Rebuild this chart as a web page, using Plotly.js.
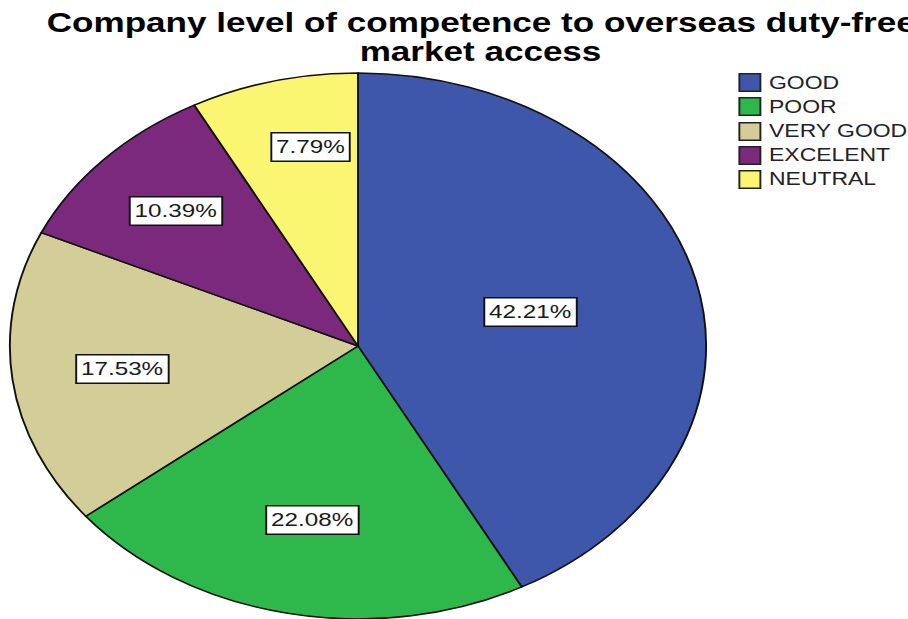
<!DOCTYPE html>
<html>
<head>
<meta charset="utf-8">
<script src="https://cdn.plot.ly/plotly-3.0.1.min.js"></script>
<style>
  html, body { margin: 0; padding: 0; overflow: hidden; background: #fff; width: 908px; height: 619px; }
  #chart { width: 712px; height: 619px; transform: scaleX(1.2753); transform-origin: 0 0; }
</style>
</head>
<body>
<div id="chart"></div>
<script>
// Data (respondent counts per category)
const categories = ['GOOD', 'POOR', 'VERY GOOD', 'EXCELENT', 'NEUTRAL'];
const counts = [65, 34, 27, 16, 12];
const colors = ['#3e57aa', '#2eb74a', '#d3ce98', '#7b297d', '#faf671'];
const titleLines = ['Company level of competence to overseas duty-free', 'market access'];

// Layout settings
const W = 712, H = 619;
const dom = { x: [0.0108, 0.7777], y: [0, 0.882] };
const labelR = [0.51, 0.65, 0.68, 0.72, 0.74];
const labelAngleShift = [0, 0, 0, 0, 3.5];
const FONT = 'Liberation Sans, Arial, sans-serif';

const total = counts.reduce((a, b) => a + b, 0);
const cx = (dom.x[0] + dom.x[1]) / 2 * W;
const cyFromTop = (1 - (dom.y[0] + dom.y[1]) / 2) * H;
const R = (dom.y[1] - dom.y[0]) * H / 2;

const annotations = [];
let cum = 0;
counts.forEach((v, i) => {
  const mid = (cum + v / 2) / total * 2 * Math.PI + labelAngleShift[i] * Math.PI / 180;
  cum += v;
  const px = cx + labelR[i] * R * Math.sin(mid);
  const py = cyFromTop - labelR[i] * R * Math.cos(mid);
  annotations.push({
    xref: 'paper', yref: 'paper',
    x: px / W, y: 1 - py / H,
    xanchor: 'center', yanchor: 'middle',
    text: (v / total * 100).toFixed(2) + '%',
    showarrow: false,
    bgcolor: '#ffffff', bordercolor: '#111', borderwidth: 1.5, borderpad: 3,
    font: { family: FONT, size: 19, color: '#1a1a1a' }
  });
});

// Legend built from annotations (bordered swatches + labels)
const legSwatchX = 588, legTextX = 601, legTop = 83, legStep = 24;
categories.forEach((c, i) => {
  const yy = 1 - (legTop + legStep * i) / H;
  annotations.push({
    xref: 'paper', yref: 'paper', x: legSwatchX / W, y: yy,
    xanchor: 'center', yanchor: 'middle', showarrow: false,
    text: ' ', width: 15, height: 16,
    bgcolor: colors[i], bordercolor: '#222', borderwidth: 1.5, borderpad: 0,
    font: { family: FONT, size: 10 }
  });
  annotations.push({
    xref: 'paper', yref: 'paper', x: legTextX / W, y: yy,
    xanchor: 'left', yanchor: 'middle', showarrow: false,
    text: c,
    font: { family: FONT, size: 18, color: '#222' }
  });
});

// Second title line
annotations.push({
  xref: 'paper', yref: 'paper', x: 0.53, y: 1 - 52 / H,
  xanchor: 'center', yanchor: 'middle', showarrow: false,
  text: '<b>' + titleLines[1] + '</b>',
  font: { family: FONT, size: 27.5, color: '#000' }
});

const trace = {
  type: 'pie',
  labels: categories,
  values: counts,
  sort: false,
  direction: 'clockwise',
  rotation: 0,
  textinfo: 'none',
  hoverinfo: 'label+percent',
  marker: { colors: colors, line: { color: '#111', width: 1.5 } },
  domain: dom
};

const layout = {
  width: W, height: H,
  margin: { l: 0, r: 0, t: 0, b: 0 },
  paper_bgcolor: '#fff',
  title: {
    text: titleLines[0],
    font: { family: FONT, size: 27.5, color: '#000', weight: 'bold' },
    x: 0.53, xanchor: 'center', xref: 'paper',
    y: 1 - 13 / H, yanchor: 'top', yref: 'container'
  },
  showlegend: false,
  annotations: annotations
};

Plotly.newPlot('chart', [trace], layout, { displayModeBar: false, staticPlot: true });
</script>
</body>
</html>
